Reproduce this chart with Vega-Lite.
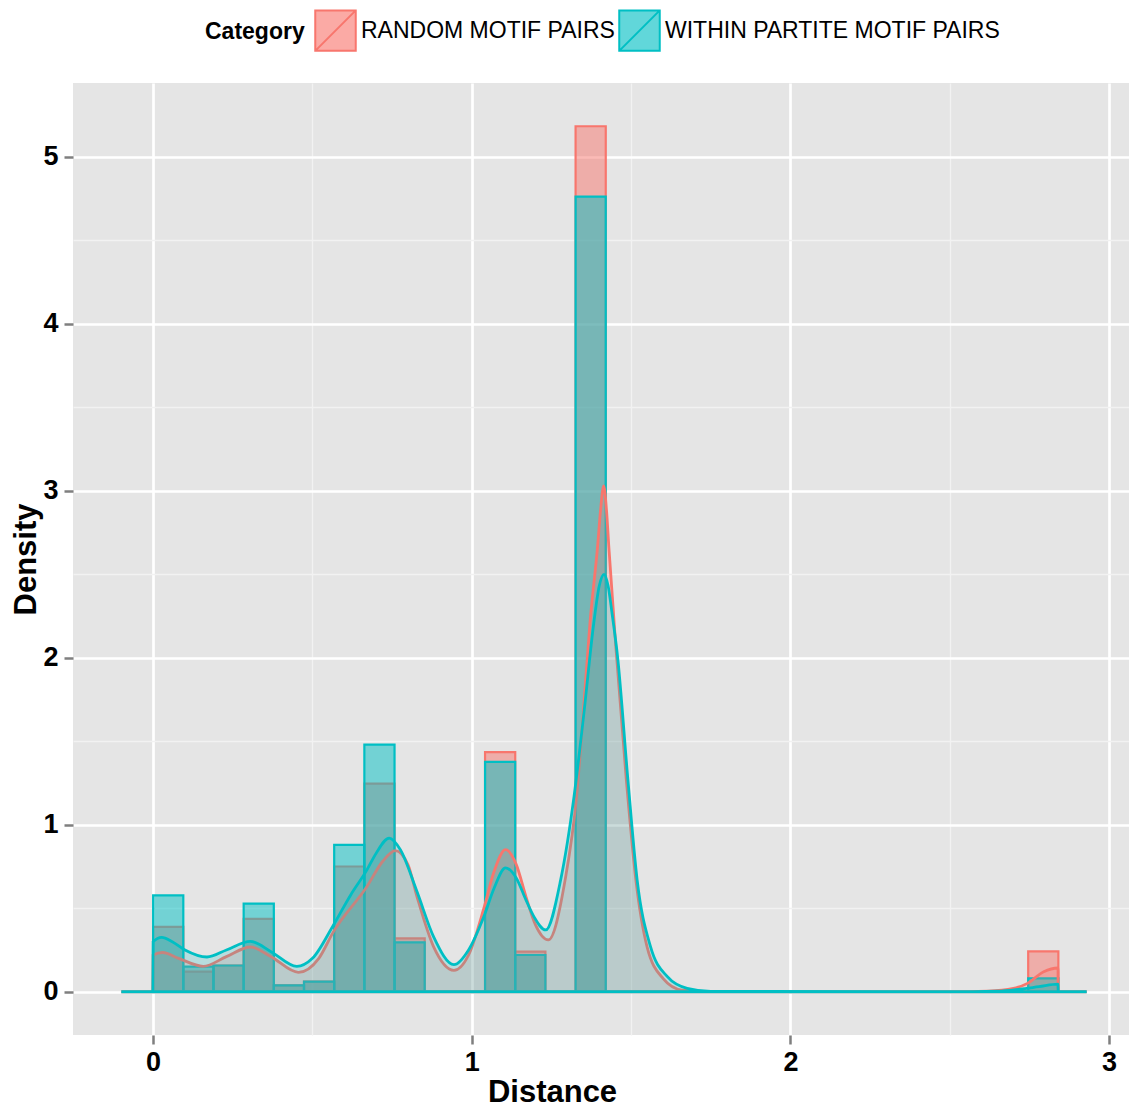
{
  "$schema": "https://vega.github.io/schema/vega-lite/v6.json",
  "width": 1062,
  "height": 952,
  "autosize": {"type": "none"},
  "padding": {"left": 73, "top": 83, "right": 0, "bottom": 73},
  "background": "white",
  "config": {"view": {"fill": "#E5E5E5", "stroke": null}, "font": "Liberation Sans"},
  "datasets": {
    "hist": [
      {"Category": "RANDOM MOTIF PAIRS", "x0": 0.0, "x1": 0.0947, "density": 0.388},
      {"Category": "RANDOM MOTIF PAIRS", "x0": 0.0947, "x1": 0.1894, "density": 0.12},
      {"Category": "RANDOM MOTIF PAIRS", "x0": 0.1894, "x1": 0.2841, "density": 0.157},
      {"Category": "RANDOM MOTIF PAIRS", "x0": 0.2841, "x1": 0.3788, "density": 0.436},
      {"Category": "RANDOM MOTIF PAIRS", "x0": 0.3788, "x1": 0.4735, "density": 0.038},
      {"Category": "RANDOM MOTIF PAIRS", "x0": 0.4735, "x1": 0.5682, "density": 0.06},
      {"Category": "RANDOM MOTIF PAIRS", "x0": 0.5682, "x1": 0.6629, "density": 0.75},
      {"Category": "RANDOM MOTIF PAIRS", "x0": 0.6629, "x1": 0.7576, "density": 1.247},
      {"Category": "RANDOM MOTIF PAIRS", "x0": 0.7576, "x1": 0.8523, "density": 0.32},
      {"Category": "RANDOM MOTIF PAIRS", "x0": 1.0417, "x1": 1.1364, "density": 1.435},
      {"Category": "RANDOM MOTIF PAIRS", "x0": 1.1364, "x1": 1.2311, "density": 0.24},
      {"Category": "RANDOM MOTIF PAIRS", "x0": 1.3258, "x1": 1.4205, "density": 5.184},
      {"Category": "RANDOM MOTIF PAIRS", "x0": 2.7463, "x1": 2.841, "density": 0.242},
      {"Category": "WITHIN PARTITE MOTIF PAIRS", "x0": 0.0, "x1": 0.0947, "density": 0.577},
      {"Category": "WITHIN PARTITE MOTIF PAIRS", "x0": 0.0947, "x1": 0.1894, "density": 0.15},
      {"Category": "WITHIN PARTITE MOTIF PAIRS", "x0": 0.1894, "x1": 0.2841, "density": 0.157},
      {"Category": "WITHIN PARTITE MOTIF PAIRS", "x0": 0.2841, "x1": 0.3788, "density": 0.528},
      {"Category": "WITHIN PARTITE MOTIF PAIRS", "x0": 0.3788, "x1": 0.4735, "density": 0.038},
      {"Category": "WITHIN PARTITE MOTIF PAIRS", "x0": 0.4735, "x1": 0.5682, "density": 0.06},
      {"Category": "WITHIN PARTITE MOTIF PAIRS", "x0": 0.5682, "x1": 0.6629, "density": 0.88},
      {"Category": "WITHIN PARTITE MOTIF PAIRS", "x0": 0.6629, "x1": 0.7576, "density": 1.48},
      {"Category": "WITHIN PARTITE MOTIF PAIRS", "x0": 0.7576, "x1": 0.8523, "density": 0.296},
      {"Category": "WITHIN PARTITE MOTIF PAIRS", "x0": 1.0417, "x1": 1.1364, "density": 1.377},
      {"Category": "WITHIN PARTITE MOTIF PAIRS", "x0": 1.1364, "x1": 1.2311, "density": 0.22},
      {"Category": "WITHIN PARTITE MOTIF PAIRS", "x0": 1.3258, "x1": 1.4205, "density": 4.763},
      {"Category": "WITHIN PARTITE MOTIF PAIRS", "x0": 2.7463, "x1": 2.841, "density": 0.08}
    ],
    "dens": [
      {"Category": "RANDOM MOTIF PAIRS", "x": -0.1, "density": 0},
      {"Category": "RANDOM MOTIF PAIRS", "x": -0.001, "density": 0},
      {"Category": "RANDOM MOTIF PAIRS", "x": 0.0, "density": 0.22},
      {"Category": "RANDOM MOTIF PAIRS", "x": 0.03, "density": 0.235},
      {"Category": "RANDOM MOTIF PAIRS", "x": 0.08, "density": 0.2},
      {"Category": "RANDOM MOTIF PAIRS", "x": 0.157, "density": 0.152},
      {"Category": "RANDOM MOTIF PAIRS", "x": 0.23, "density": 0.21},
      {"Category": "RANDOM MOTIF PAIRS", "x": 0.305, "density": 0.268},
      {"Category": "RANDOM MOTIF PAIRS", "x": 0.37, "density": 0.21},
      {"Category": "RANDOM MOTIF PAIRS", "x": 0.456, "density": 0.116},
      {"Category": "RANDOM MOTIF PAIRS", "x": 0.52, "density": 0.2},
      {"Category": "RANDOM MOTIF PAIRS", "x": 0.566, "density": 0.36},
      {"Category": "RANDOM MOTIF PAIRS", "x": 0.671, "density": 0.63},
      {"Category": "RANDOM MOTIF PAIRS", "x": 0.72, "density": 0.78},
      {"Category": "RANDOM MOTIF PAIRS", "x": 0.76, "density": 0.845},
      {"Category": "RANDOM MOTIF PAIRS", "x": 0.8, "density": 0.76},
      {"Category": "RANDOM MOTIF PAIRS", "x": 0.828, "density": 0.57},
      {"Category": "RANDOM MOTIF PAIRS", "x": 0.88, "density": 0.27},
      {"Category": "RANDOM MOTIF PAIRS", "x": 0.944, "density": 0.128},
      {"Category": "RANDOM MOTIF PAIRS", "x": 0.99, "density": 0.22},
      {"Category": "RANDOM MOTIF PAIRS", "x": 1.038, "density": 0.5},
      {"Category": "RANDOM MOTIF PAIRS", "x": 1.07, "density": 0.72},
      {"Category": "RANDOM MOTIF PAIRS", "x": 1.106, "density": 0.851},
      {"Category": "RANDOM MOTIF PAIRS", "x": 1.14, "density": 0.76},
      {"Category": "RANDOM MOTIF PAIRS", "x": 1.17, "density": 0.57},
      {"Category": "RANDOM MOTIF PAIRS", "x": 1.2, "density": 0.4},
      {"Category": "RANDOM MOTIF PAIRS", "x": 1.24, "density": 0.31},
      {"Category": "RANDOM MOTIF PAIRS", "x": 1.293, "density": 0.67},
      {"Category": "RANDOM MOTIF PAIRS", "x": 1.329, "density": 1.17},
      {"Category": "RANDOM MOTIF PAIRS", "x": 1.35, "density": 1.67},
      {"Category": "RANDOM MOTIF PAIRS", "x": 1.371, "density": 2.21},
      {"Category": "RANDOM MOTIF PAIRS", "x": 1.395, "density": 2.67},
      {"Category": "RANDOM MOTIF PAIRS", "x": 1.404, "density": 2.88},
      {"Category": "RANDOM MOTIF PAIRS", "x": 1.414, "density": 3.03},
      {"Category": "RANDOM MOTIF PAIRS", "x": 1.423, "density": 2.88},
      {"Category": "RANDOM MOTIF PAIRS", "x": 1.43, "density": 2.67},
      {"Category": "RANDOM MOTIF PAIRS", "x": 1.452, "density": 2.07},
      {"Category": "RANDOM MOTIF PAIRS", "x": 1.485, "density": 1.27},
      {"Category": "RANDOM MOTIF PAIRS", "x": 1.515, "density": 0.67},
      {"Category": "RANDOM MOTIF PAIRS", "x": 1.55, "density": 0.27},
      {"Category": "RANDOM MOTIF PAIRS", "x": 1.6, "density": 0.08},
      {"Category": "RANDOM MOTIF PAIRS", "x": 1.66, "density": 0.01},
      {"Category": "RANDOM MOTIF PAIRS", "x": 1.75, "density": 0.001},
      {"Category": "RANDOM MOTIF PAIRS", "x": 2.5, "density": 0},
      {"Category": "RANDOM MOTIF PAIRS", "x": 2.62, "density": 0.004},
      {"Category": "RANDOM MOTIF PAIRS", "x": 2.7, "density": 0.02},
      {"Category": "RANDOM MOTIF PAIRS", "x": 2.744, "density": 0.05},
      {"Category": "RANDOM MOTIF PAIRS", "x": 2.795, "density": 0.12},
      {"Category": "RANDOM MOTIF PAIRS", "x": 2.84, "density": 0.142},
      {"Category": "RANDOM MOTIF PAIRS", "x": 2.8401, "density": 0},
      {"Category": "RANDOM MOTIF PAIRS", "x": 2.93, "density": 0},
      {"Category": "WITHIN PARTITE MOTIF PAIRS", "x": -0.1, "density": 0},
      {"Category": "WITHIN PARTITE MOTIF PAIRS", "x": -0.001, "density": 0},
      {"Category": "WITHIN PARTITE MOTIF PAIRS", "x": 0.0, "density": 0.3},
      {"Category": "WITHIN PARTITE MOTIF PAIRS", "x": 0.027, "density": 0.326},
      {"Category": "WITHIN PARTITE MOTIF PAIRS", "x": 0.06, "density": 0.3},
      {"Category": "WITHIN PARTITE MOTIF PAIRS", "x": 0.1, "density": 0.25},
      {"Category": "WITHIN PARTITE MOTIF PAIRS", "x": 0.169, "density": 0.208},
      {"Category": "WITHIN PARTITE MOTIF PAIRS", "x": 0.23, "density": 0.25},
      {"Category": "WITHIN PARTITE MOTIF PAIRS", "x": 0.305, "density": 0.302},
      {"Category": "WITHIN PARTITE MOTIF PAIRS", "x": 0.37, "density": 0.24},
      {"Category": "WITHIN PARTITE MOTIF PAIRS", "x": 0.451, "density": 0.152},
      {"Category": "WITHIN PARTITE MOTIF PAIRS", "x": 0.5, "density": 0.2},
      {"Category": "WITHIN PARTITE MOTIF PAIRS", "x": 0.566, "density": 0.4},
      {"Category": "WITHIN PARTITE MOTIF PAIRS", "x": 0.62, "density": 0.58},
      {"Category": "WITHIN PARTITE MOTIF PAIRS", "x": 0.671, "density": 0.73},
      {"Category": "WITHIN PARTITE MOTIF PAIRS", "x": 0.7, "density": 0.83},
      {"Category": "WITHIN PARTITE MOTIF PAIRS", "x": 0.741, "density": 0.92},
      {"Category": "WITHIN PARTITE MOTIF PAIRS", "x": 0.776, "density": 0.85},
      {"Category": "WITHIN PARTITE MOTIF PAIRS", "x": 0.828, "density": 0.6},
      {"Category": "WITHIN PARTITE MOTIF PAIRS", "x": 0.88, "density": 0.33},
      {"Category": "WITHIN PARTITE MOTIF PAIRS", "x": 0.944, "density": 0.162},
      {"Category": "WITHIN PARTITE MOTIF PAIRS", "x": 0.99, "density": 0.25},
      {"Category": "WITHIN PARTITE MOTIF PAIRS", "x": 1.038, "density": 0.45},
      {"Category": "WITHIN PARTITE MOTIF PAIRS", "x": 1.07, "density": 0.62},
      {"Category": "WITHIN PARTITE MOTIF PAIRS", "x": 1.106, "density": 0.742},
      {"Category": "WITHIN PARTITE MOTIF PAIRS", "x": 1.14, "density": 0.68},
      {"Category": "WITHIN PARTITE MOTIF PAIRS", "x": 1.17, "density": 0.55},
      {"Category": "WITHIN PARTITE MOTIF PAIRS", "x": 1.195, "density": 0.45},
      {"Category": "WITHIN PARTITE MOTIF PAIRS", "x": 1.232, "density": 0.37},
      {"Category": "WITHIN PARTITE MOTIF PAIRS", "x": 1.279, "density": 0.67},
      {"Category": "WITHIN PARTITE MOTIF PAIRS", "x": 1.321, "density": 1.17},
      {"Category": "WITHIN PARTITE MOTIF PAIRS", "x": 1.352, "density": 1.67},
      {"Category": "WITHIN PARTITE MOTIF PAIRS", "x": 1.383, "density": 2.21},
      {"Category": "WITHIN PARTITE MOTIF PAIRS", "x": 1.4, "density": 2.43},
      {"Category": "WITHIN PARTITE MOTIF PAIRS", "x": 1.415, "density": 2.5},
      {"Category": "WITHIN PARTITE MOTIF PAIRS", "x": 1.428, "density": 2.43},
      {"Category": "WITHIN PARTITE MOTIF PAIRS", "x": 1.44, "density": 2.27},
      {"Category": "WITHIN PARTITE MOTIF PAIRS", "x": 1.458, "density": 2.0},
      {"Category": "WITHIN PARTITE MOTIF PAIRS", "x": 1.49, "density": 1.27},
      {"Category": "WITHIN PARTITE MOTIF PAIRS", "x": 1.519, "density": 0.67},
      {"Category": "WITHIN PARTITE MOTIF PAIRS", "x": 1.561, "density": 0.27},
      {"Category": "WITHIN PARTITE MOTIF PAIRS", "x": 1.614, "density": 0.09},
      {"Category": "WITHIN PARTITE MOTIF PAIRS", "x": 1.676, "density": 0.02},
      {"Category": "WITHIN PARTITE MOTIF PAIRS", "x": 1.75, "density": 0.002},
      {"Category": "WITHIN PARTITE MOTIF PAIRS", "x": 2.5, "density": 0},
      {"Category": "WITHIN PARTITE MOTIF PAIRS", "x": 2.65, "density": 0.003},
      {"Category": "WITHIN PARTITE MOTIF PAIRS", "x": 2.72, "density": 0.015},
      {"Category": "WITHIN PARTITE MOTIF PAIRS", "x": 2.78, "density": 0.03},
      {"Category": "WITHIN PARTITE MOTIF PAIRS", "x": 2.84, "density": 0.045},
      {"Category": "WITHIN PARTITE MOTIF PAIRS", "x": 2.8401, "density": 0},
      {"Category": "WITHIN PARTITE MOTIF PAIRS", "x": 2.93, "density": 0}
    ]
  },
  "layer": [
    {
      "data": {"name": "hist"},
      "mark": {"type": "bar", "fillOpacity": 0.5, "strokeWidth": 2.2, "strokeOpacity": 1},
      "encoding": {
        "x": {"field": "x0", "type": "quantitative",
          "scale": {"domain": [-0.2515, 3.0815], "nice": false, "zero": false},
          "axis": {"orient": "top", "values": [0.5, 1.5, 2.5], "labels": false, "ticks": false, "domain": false, "title": null, "grid": true, "gridColor": "#F2F2F2", "gridWidth": 1.3}},
        "x2": {"field": "x1"},
        "y": {"field": "density", "type": "quantitative", "stack": null,
          "scale": {"domain": [-0.2592, 5.4432], "nice": false, "zero": false, "padding": 0},
          "axis": {"orient": "right", "values": [0.5, 1.5, 2.5, 3.5, 4.5], "labels": false, "ticks": false, "domain": false, "title": null, "grid": true, "gridColor": "#F2F2F2", "gridWidth": 1.3}},
        "y2": {"datum": 0},
        "color": {"field": "Category", "type": "nominal",
          "scale": {"domain": ["RANDOM MOTIF PAIRS", "WITHIN PARTITE MOTIF PAIRS"], "range": ["#F8766D", "#00BFC4"]},
          "legend": {"orient": "none", "legendX": 132, "legendY": -74, "direction": "horizontal",
            "title": "Category", "titleOrient": "left", "titleFontSize": 23, "titleFontWeight": "bold", "titleColor": "#000000", "titleBaseline": "middle", "titlePadding": 9,
            "labelFontSize": 23, "labelColor": "#000000", "labelOffset": 4, "labelLimit": 0, "columnPadding": 0,
            "symbolType": "M-1,-1H1V1H-1Z M-1,1L1,-1", "symbolSize": 1640, "symbolStrokeWidth": 2,
            "encode": {"symbols": {"update": {"stroke": {"scale": "color", "field": "value"}, "fillOpacity": {"value": 0.62}, "opacity": {"value": 1}}}}}},
        "stroke": {"field": "Category", "type": "nominal",
          "scale": {"domain": ["RANDOM MOTIF PAIRS", "WITHIN PARTITE MOTIF PAIRS"], "range": ["#F8766D", "#00BFC4"]},
          "legend": null}
      }
    },
    {
      "data": {"name": "dens"},
      "mark": {"type": "area", "interpolate": "monotone", "fillOpacity": 0.2, "strokeWidth": 2.8, "strokeOpacity": 1},
      "encoding": {
        "x": {"field": "x", "type": "quantitative",
          "axis": {"orient": "bottom", "values": [0, 1, 2, 3], "grid": true, "gridColor": "#FFFFFF", "gridWidth": 2.7, "domain": false,
            "tickColor": "#7F7F7F", "tickSize": 9, "tickWidth": 2.5, "labelFontSize": 27, "labelFontWeight": "bold", "labelColor": "#000000", "labelPadding": 5,
            "title": "Distance", "titleFontSize": 31, "titleFontWeight": "bold", "titleColor": "#000000", "titleX": 479, "titleY": 66, "titleBaseline": "alphabetic", "titleAlign": "center"}},
        "y": {"field": "density", "type": "quantitative", "stack": null,
          "axis": {"orient": "left", "values": [0, 1, 2, 3, 4, 5], "grid": true, "gridColor": "#FFFFFF", "gridWidth": 2.7, "domain": false,
            "tickColor": "#7F7F7F", "tickSize": 9, "tickWidth": 2.5, "labelFontSize": 27, "labelFontWeight": "bold", "labelColor": "#000000", "labelPadding": 6,
            "title": "Density", "titleFontSize": 31, "titleFontWeight": "bold", "titleColor": "#000000", "titleAngle": 270, "titleX": -38, "titleY": 476, "titleBaseline": "alphabetic", "titleAlign": "center"}},
        "y2": {"datum": 0},
        "color": {"field": "Category", "type": "nominal"},
        "stroke": {"field": "Category", "type": "nominal"}
      }
    }
  ],
  "resolve": {"axis": {"x": "independent", "y": "independent"}}
}
